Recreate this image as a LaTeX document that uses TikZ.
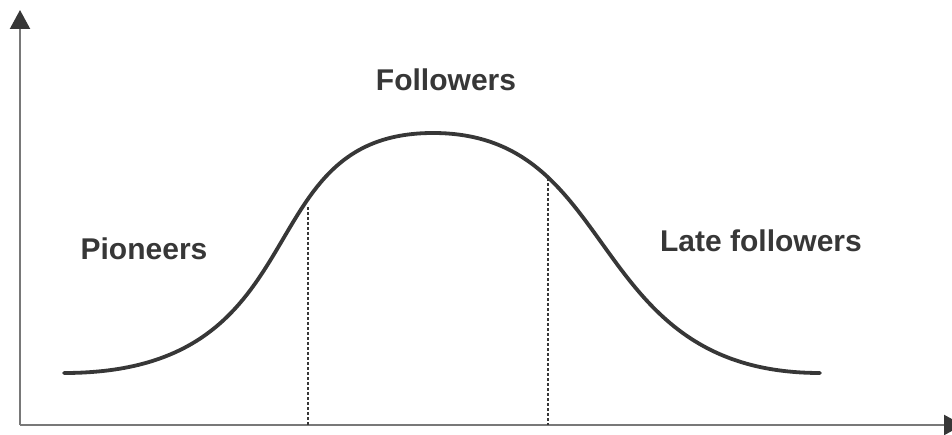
\documentclass[tikz,border=0pt]{standalone}
\usepackage{fontspec}
\setmainfont{Liberation Sans}
\usepackage{xcolor}
\usetikzlibrary{arrows.meta}
\definecolor{inkgray}{RGB}{55, 55, 55}
\definecolor{axisgray}{RGB}{120, 120, 120}

\begin{document}
\begin{tikzpicture}[
  x=1pt, y=-1pt,
  axis/.style={line width=2.2pt, axisgray,
               -{Triangle[width=20pt,length=19pt,color=inkgray]}},
  curve/.style={line width=3.8pt, inkgray, line cap=round},
  guide/.style={line width=1.5pt, inkgray, dash pattern=on 3pt off 2pt},
  lbl/.style={anchor=base, inner sep=0pt, text=inkgray,
              font=\fontsize{30}{35}\selectfont\bfseries}
]
\useasboundingbox (0,0) rectangle (952,435);

% axes
\coordinate (o)  at (20,425);
\coordinate (ytop) at (20,10);
\coordinate (xend) at (963,425);
\draw[axis] (o) -- (ytop);
\draw[axis] (o) -- (xend);

% adoption curve
\coordinate (s) at (64,373);
\coordinate (top) at (433,133);
\coordinate (e) at (820,373);
\draw[curve] (s) .. controls (324,373) and (243,133) .. (top)
                 .. controls (623,133) and (583,373) .. (e);

% guide lines
\coordinate (c1) at (308,207);
\coordinate (c2) at (548,178);
\coordinate (b1) at (308,425);
\coordinate (b2) at (548,425);
\draw[guide] (c1) -- (b1);
\draw[guide] (c2) -- (b2);

% labels
\node[lbl] (pion) at (144,260) {Pioneers};
\node[lbl] (foll) at (446,91)  {Followers};
\node[lbl] (late) at (761,252) {Late followers};

\end{tikzpicture}
\end{document}
